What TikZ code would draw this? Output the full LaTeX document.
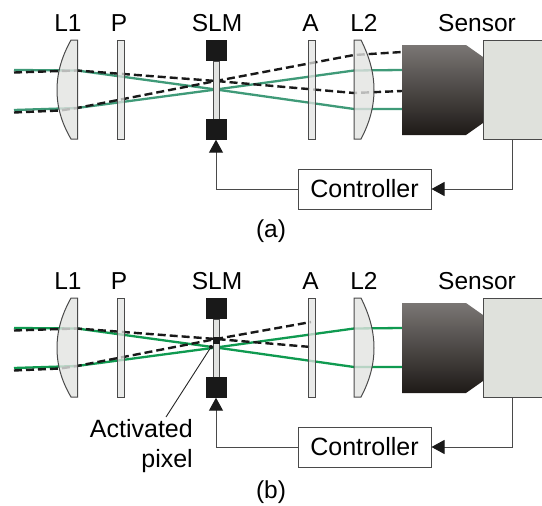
\documentclass[tikz,border=0pt]{standalone}
\usepackage{fontspec}
\setmainfont{Liberation Sans}
\usetikzlibrary{arrows.meta}
\pgfdeclarelayer{background}
\pgfsetlayers{background,main}
\definecolor{lensgray}{HTML}{E2E3E1}
\definecolor{sensorgray}{HTML}{DFE1DC}
\definecolor{edgegray}{HTML}{4A4A4A}
\definecolor{beamA}{HTML}{3F9A78}
\definecolor{beamB}{HTML}{0F9A50}
\definecolor{bodytop}{HTML}{7A7674}
\definecolor{bodybot}{HTML}{1E1A17}
\tikzstyle{plate} = [rectangle, draw=edgegray, line width=1pt, fill=lensgray, fill opacity=0.75,
    minimum width=7pt, minimum height=99pt, inner sep=0pt]
\tikzstyle{lens} = [draw=edgegray, line width=1pt, fill=lensgray, fill opacity=0.8]
\tikzstyle{slmblock} = [rectangle, fill=black!90, minimum width=21pt, minimum height=21pt, inner sep=0pt]
\tikzstyle{slmbar} = [rectangle, draw=edgegray, line width=1pt, fill=lensgray,
    minimum width=6pt, minimum height=58pt, inner sep=0pt]
\tikzstyle{sensorbox} = [rectangle, draw=edgegray, line width=1pt, fill=sensorgray,
    minimum width=59pt, minimum height=99pt, inner sep=0pt]
\tikzstyle{ctrlbox} = [rectangle, draw=edgegray, line width=1pt, fill=white,
    minimum width=133pt, minimum height=40pt, inner sep=0pt, font=\fontsize{25}{28}\selectfont]
\tikzstyle{label} = [anchor=base, inner sep=0pt, font=\fontsize{24.5}{28}\selectfont]
\tikzstyle{line} = [draw=edgegray, line width=1pt, -{Triangle[width=14pt,length=13pt,color=black!90]}]
\tikzstyle{beam} = [line width=2.3pt]
\tikzstyle{ghost} = [line width=2.4pt, black!90, dash pattern=on 8pt off 4pt]
\begin{document}
\begin{tikzpicture}[x=1pt, y=-1pt]
    \useasboundingbox (0,0) rectangle (542,506);
    % Place nodes
    \foreach \pre/\off in {a/0,b/258} {
    \begin{scope}[yshift=-\off pt]
        \node [label] (\pre-tL1) at (68,31) {L1};
        \node [label] (\pre-tP) at (119,31) {P};
        \node [label] (\pre-tSLM) at (217,31) {SLM};
        \node [label] (\pre-tA) at (310.5,31) {A};
        \node [label] (\pre-tL2) at (364,31) {L2};
        \node [label] (\pre-tS) at (477,31) {Sensor};
        \node [plate] (\pre-P) at (120.5,89.5) {};
        \node [plate] (\pre-A) at (311.5,89.5) {};
        \node [slmbar] (\pre-bar) at (216,90) {};
        \node [slmblock] (\pre-top) at (216,50.5) {};
        \node [slmblock] (\pre-bot) at (216,129) {};
        \node [sensorbox] (\pre-sensor) at (512.5,89.5) {};
        \node [ctrlbox] (\pre-ctrl) at (364.5,189) {Controller};
        \draw [lens] (77.5,40) -- (71,40) .. controls (61,58) and (57,74) .. (57,90)
            .. controls (57,106) and (61,122) .. (71,139) -- (77.5,139) -- cycle;
        \draw [lens] (354,40) -- (361,40) .. controls (370,58) and (374,74) .. (374,90)
            .. controls (374,106) and (370,122) .. (361,139) -- (354,139) -- cycle;
        \shade [top color=bodytop, bottom color=bodybot] (402,45) -- (466,45) -- (483,57)
            -- (483,123) -- (466,135) -- (402,135) -- cycle;
        % Ray points
        \coordinate (\pre-in1) at (14,70);
        \coordinate (\pre-in2) at (14,110);
        \coordinate (\pre-l1a) at (77,70.5);
        \coordinate (\pre-l1b) at (77,108);
        \coordinate (\pre-f) at (216,89.5);
        \coordinate (\pre-l2a) at (354,109);
        \coordinate (\pre-l2b) at (354,70.5);
        \coordinate (\pre-out1) at (402,109);
        \coordinate (\pre-out2) at (402,70);
        \coordinate (\pre-dn1) at (14,72.5);
        \coordinate (\pre-dn2) at (14,112.5);
        \coordinate (\pre-d1a) at (60,71);
        \coordinate (\pre-d1b) at (60,110.5);
        \coordinate (\pre-fd) at (216,81);
        % Draw edges
        \path [line] (\pre-ctrl) -| (\pre-bot.south);
        \path [line] (\pre-sensor) |- (\pre-ctrl);
    \end{scope}
    }
    \coordinate (a-d2a) at (354,93);
    \coordinate (a-d2b) at (354,55);
    \coordinate (a-dout1) at (402,91);
    \coordinate (a-dout2) at (402,52);
    \coordinate (b-dend1) at (311,347);
    \coordinate (b-dend2) at (311,322);
    % Activated pixel
    \node [rectangle, fill=black!90, minimum width=7pt, minimum height=7pt, inner sep=0pt] (pix) at (216,340) {};
    \node [circle, fill=black!90, minimum size=4pt, inner sep=0pt] (pixdot) at (211,347) {};
    \node [anchor=north east, align=right, inner sep=0pt, font=\fontsize{25}{30}\selectfont] (pixlabel)
        at (193,419) {Activated\\pixel};
    \coordinate (leader) at (166,417);
    \draw [black!85, line width=0.9pt] (pixdot) -- (leader);
    \node [label] (capa) at (271,237) {(a)};
    \node [label] (capb) at (271,498) {(b)};
    \begin{pgfonlayer}{background}
        \draw [beam, beamA] (a-in1) -- (a-l1a) -- (a-f) -- (a-l2a) -- (a-out1);
        \draw [beam, beamA] (a-in2) -- (a-l1b) -- (a-f) -- (a-l2b) -- (a-out2);
        \draw [ghost] (a-dn1) -- (a-d1a) -- (a-l1a) -- (a-fd) -- (a-d2a) -- (a-dout1);
        \draw [ghost] (a-dn2) -- (a-d1b) -- (a-l1b) -- (a-fd) -- (a-d2b) -- (a-dout2);
        \draw [beam, beamB] (b-in1) -- (b-l1a) -- (b-f) -- (b-l2a) -- (b-out1);
        \draw [beam, beamB] (b-in2) -- (b-l1b) -- (b-f) -- (b-l2b) -- (b-out2);
        \draw [ghost] (b-dn1) -- (b-d1a) -- (b-l1a) -- (b-fd) -- (b-dend1);
        \draw [ghost] (b-dn2) -- (b-d1b) -- (b-l1b) -- (b-fd) -- (b-dend2);
    \end{pgfonlayer}
\end{tikzpicture}
\end{document}
